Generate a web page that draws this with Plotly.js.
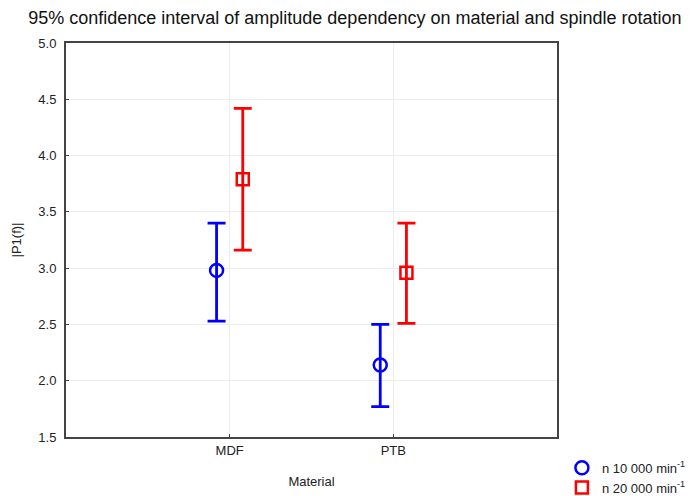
<!DOCTYPE html>
<html>
<head>
<meta charset="utf-8">
<script src="https://cdn.plot.ly/plotly-3.0.1.min.js"></script>
<style>html,body{margin:0;padding:0;background:#fff;}#chart{width:700px;height:496px;}</style>
</head>
<body>
<div id="chart"></div>
<script>
// Data
const materials = ["MDF", "PTB"];
const seriesNames = ["n 10 000 min<sup>-1</sup>", "n 20 000 min<sup>-1</sup>"];
const mean10k = [2.98, 2.14];
const upper10k = [3.40, 2.50];
const lower10k = [2.53, 1.77];
const mean20k = [3.79, 2.96];
const upper20k = [4.42, 3.40];
const lower20k = [3.16, 2.51];
const yTicks = [1.5, 2.0, 2.5, 3.0, 3.5, 4.0, 4.5, 5.0];

const catIndex = materials.map((m, i) => i);
function offset(arr, d) { return arr.map(v => v + d); }
function diff(a, b) { return a.map((v, i) => v - b[i]); }

const traces = [
  {
    x: offset(catIndex, -0.08), y: mean10k, name: seriesNames[0],
    type: "scatter", mode: "markers",
    marker: {symbol: "circle-open", size: 13, color: "#0000ff", line: {width: 2.5, color: "#0000ff"}},
    error_y: {type: "data", symmetric: false, array: diff(upper10k, mean10k), arrayminus: diff(mean10k, lower10k),
              color: "#0000ff", thickness: 2.8, width: 9}
  },
  {
    x: offset(catIndex, 0.08), y: mean20k, name: seriesNames[1],
    type: "scatter", mode: "markers",
    marker: {symbol: "square-open", size: 12, color: "#ff0000", line: {width: 2.5, color: "#ff0000"}},
    error_y: {type: "data", symmetric: false, array: diff(upper20k, mean20k), arrayminus: diff(mean20k, lower20k),
              color: "#ff0000", thickness: 2.8, width: 9}
  }
];

const layout = {
  width: 700, height: 496,
  margin: {l: 66, r: 143, t: 43, b: 59, autoexpand: false},
  paper_bgcolor: "#ffffff", plot_bgcolor: "#ffffff",
  font: {family: "Liberation Sans, Arial, sans-serif", size: 13, color: "#222"},
  title: {text: "95% confidence interval of amplitude dependency on material and spindle rotation",
          font: {size: 18, color: "#111"}, x: 0.507, xanchor: "center", y: 0.964, yanchor: "middle"},
  xaxis: {
    range: [-1, 2], tickvals: catIndex, ticktext: materials,
    showgrid: true, gridcolor: "#ededed", gridwidth: 1, zeroline: false,
    showline: true, linecolor: "#444", linewidth: 2, mirror: true,
    ticks: "inside", ticklen: 3, tickcolor: "#444", automargin: false,
    tickfont: {size: 13, color: "#222"},
    title: {text: "Material", font: {size: 13, color: "#222"}, standoff: 20}
  },
  yaxis: {
    range: [1.5, 5.0], tickvals: yTicks, ticktext: yTicks.map(v => v.toFixed(1)),
    showgrid: true, gridcolor: "#ededed", gridwidth: 1, zeroline: false,
    showline: true, linecolor: "#444", linewidth: 2, mirror: true,
    ticks: "inside", ticklen: 3, tickcolor: "#444", automargin: false,
    ticklabelstandoff: 5,
    tickfont: {size: 13, color: "#222"},
    title: {text: "|P1(f)|", font: {size: 13, color: "#222"}, standoff: 14}
  },
  showlegend: true,
  legend: {x: 1.01, xanchor: "left", y: -0.04, yanchor: "top", bgcolor: "rgba(0,0,0,0)",
           font: {size: 13, color: "#222"}, tracegroupgap: 0, itemwidth: 30}
};

Plotly.newPlot("chart", traces, layout, {displayModeBar: false, staticPlot: true});
</script>
</body>
</html>
